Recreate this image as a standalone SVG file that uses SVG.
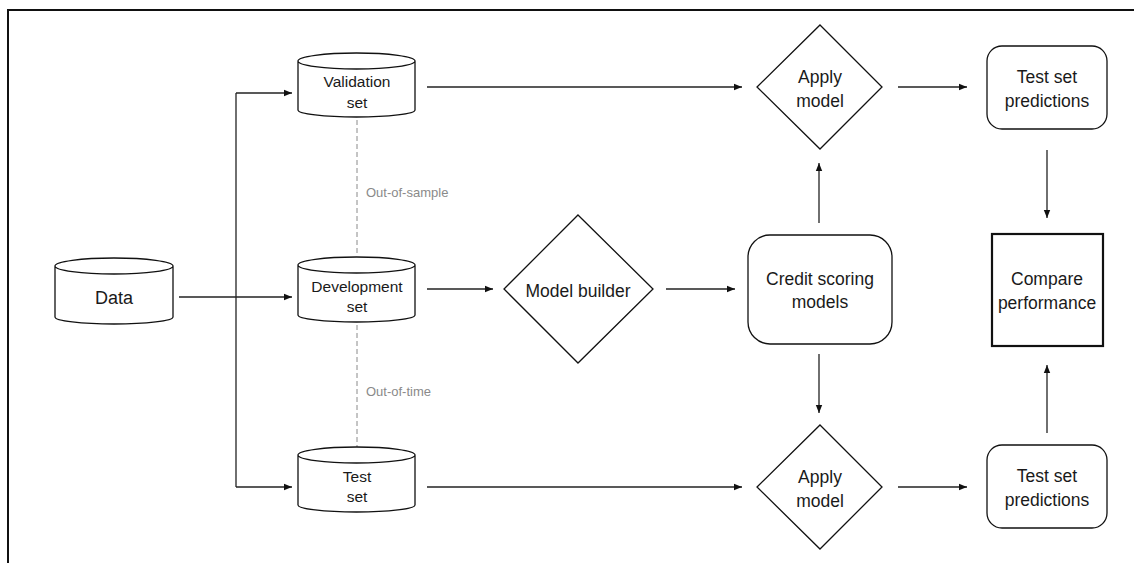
<svg xmlns="http://www.w3.org/2000/svg" width="1134" height="563" viewBox="0 0 1134 563">
<defs>
<marker id="ah" markerWidth="8" markerHeight="8" refX="8" refY="4" orient="auto" markerUnits="userSpaceOnUse">
<path d="M0,0.8 L8,4 L0,7.2 Z" fill="#111"/>
</marker>
<style>
.shape{fill:#fff;stroke:#111;stroke-width:1.3}
.t{font-family:"Liberation Sans",Arial,sans-serif;fill:#1a1a1a;text-anchor:middle}
.cyl{font-size:15.5px}
.big{font-size:17.5px}
.lbl{font-family:"Liberation Sans",Arial,sans-serif;font-size:13px;fill:#8a8a8a}
.ln{fill:none;stroke:#222;stroke-width:1.3}
.dash{fill:none;stroke:#8a8a8a;stroke-width:1;stroke-dasharray:5,3}
</style>
</defs>
<rect width="1134" height="563" fill="#fff"/>
<path d="M8,563 V10 H1134" fill="none" stroke="#111" stroke-width="2"/>

<g id="connectors">
<line class="ln" x1="179" y1="297" x2="292" y2="297" marker-end="url(#ah)"/>
<line class="ln" x1="236" y1="93" x2="236" y2="487"/>
<line class="ln" x1="236" y1="93" x2="292" y2="93" marker-end="url(#ah)"/>
<line class="ln" x1="236" y1="487" x2="292" y2="487" marker-end="url(#ah)"/>
<line class="dash" x1="357" y1="120" x2="357" y2="256"/>
<line class="dash" x1="357" y1="325" x2="357" y2="447"/>
<line class="ln" x1="427" y1="87" x2="742" y2="87" marker-end="url(#ah)"/>
<line class="ln" x1="427" y1="289" x2="493" y2="289" marker-end="url(#ah)"/>
<line class="ln" x1="427" y1="487" x2="742" y2="487" marker-end="url(#ah)"/>
<line class="ln" x1="666" y1="289" x2="735" y2="289" marker-end="url(#ah)"/>
<line class="ln" x1="819" y1="223" x2="819" y2="163" marker-end="url(#ah)"/>
<line class="ln" x1="819" y1="354" x2="819" y2="413" marker-end="url(#ah)"/>
<line class="ln" x1="898" y1="87" x2="967" y2="87" marker-end="url(#ah)"/>
<line class="ln" x1="898" y1="487" x2="967" y2="487" marker-end="url(#ah)"/>
<line class="ln" x1="1047" y1="150" x2="1047" y2="218" marker-end="url(#ah)"/>
<line class="ln" x1="1047" y1="433" x2="1047" y2="365" marker-end="url(#ah)"/>
<text class="lbl" x="366" y="197">Out-of-sample</text>
<text class="lbl" x="366" y="396">Out-of-time</text>
</g>

<g id="data">
<path class="shape" d="M55,266 A59,8 0 0 1 173,266 V317 A59,7 0 0 1 55,317 Z M55,266 A59,8 0 0 0 173,266"/>
<text class="t" x="114" y="304" font-size="18">Data</text>
</g>

<g id="validation">
<path class="shape" d="M298,61 A58.5,8 0 0 1 415,61 V110 A58.5,7 0 0 1 298,110 Z M298,61 A58.5,8 0 0 0 415,61"/>
<text class="t cyl" x="357" y="87">Validation</text>
<text class="t cyl" x="357" y="108">set</text>
</g>

<g id="development">
<path class="shape" d="M298,265 A58.5,8 0 0 1 415,265 V315 A58.5,7 0 0 1 298,315 Z M298,265 A58.5,8 0 0 0 415,265"/>
<text class="t cyl" x="357" y="292">Development</text>
<text class="t cyl" x="357" y="312">set</text>
</g>

<g id="test">
<path class="shape" d="M298,455 A58.5,8 0 0 1 415,455 V505 A58.5,7 0 0 1 298,505 Z M298,455 A58.5,8 0 0 0 415,455"/>
<text class="t cyl" x="357" y="482">Test</text>
<text class="t cyl" x="357" y="502">set</text>
</g>

<g id="model-builder">
<polygon class="shape" points="578,215 653,289 578,363 504,289"/>
<text class="t big" x="578" y="297">Model builder</text>
</g>

<g id="credit-scoring">
<rect class="shape" x="748" y="235" width="144" height="109" rx="22"/>
<text class="t big" x="820" y="285">Credit scoring</text>
<text class="t big" x="820" y="308">models</text>
</g>

<g id="apply-top">
<polygon class="shape" points="820,25 882,87 820,149 757,87"/>
<text class="t big" x="820" y="83">Apply</text>
<text class="t big" x="820" y="107">model</text>
</g>

<g id="apply-bottom">
<polygon class="shape" points="820,425 882,487 820,549 757,487"/>
<text class="t big" x="820" y="483">Apply</text>
<text class="t big" x="820" y="507">model</text>
</g>

<g id="pred-top">
<rect class="shape" x="987" y="46" width="120" height="83" rx="15"/>
<text class="t big" x="1047" y="83">Test set</text>
<text class="t big" x="1047" y="107">predictions</text>
</g>

<g id="pred-bottom">
<rect class="shape" x="987" y="445" width="120" height="83" rx="15"/>
<text class="t big" x="1047" y="482">Test set</text>
<text class="t big" x="1047" y="506">predictions</text>
</g>

<g id="compare">
<rect x="992" y="234" width="111" height="112" fill="#fff" stroke="#111" stroke-width="2.2"/>
<text class="t big" x="1047" y="285">Compare</text>
<text class="t big" x="1047" y="309">performance</text>
</g>
</svg>
